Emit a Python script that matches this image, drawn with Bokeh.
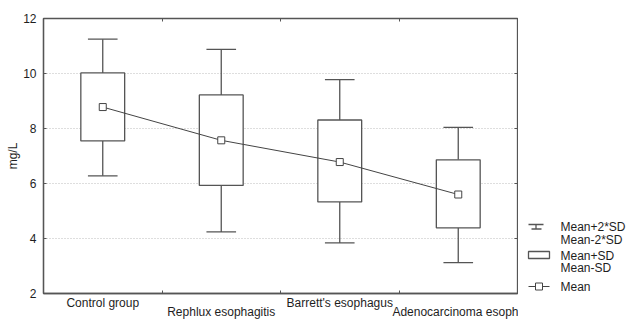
from bokeh.plotting import figure
from bokeh.models import Range1d, FixedTicker, LinearAxis, ColumnDataSource
from bokeh.layouts import row
from bokeh.embed import file_html
from bokeh.resources import INLINE
from bokeh.core.properties import value

# ---- data ----
categories = ["Control group", "Rephlux esophagitis", "Barrett's esophagus", "Adenocarcinoma esoph"]
mean = [8.78, 7.57, 6.78, 5.60]
mean_plus_sd = [10.02, 9.22, 8.31, 6.86]
mean_minus_sd = [7.55, 5.93, 5.33, 4.39]
mean_plus_2sd = [11.25, 10.88, 9.78, 8.04]
mean_minus_2sd = [6.28, 4.24, 3.84, 3.12]
y_ticks = [2, 4, 6, 8, 10, 12]
y_label = "mg/L"
legend_texts = ["Mean+2*SD", "Mean-2*SD", "Mean+SD", "Mean-SD", "Mean"]

FONT = "Liberation Sans"
EDGE = "#555555"
DARK = "#444444"
TXT = "#1e1e1e"

W_MAIN, W_LEG, H = 518, 109, 321
TOP, BOTTOM, LEFT, RIGHT = 18, 28, 43, 1

n = len(categories)
xs = [i + 0.5 for i in range(n)]
box_w = 0.37
cap_w = 0.25

src = ColumnDataSource(dict(
    x=xs, mean=mean, psd=mean_plus_sd, msd=mean_minus_sd,
    p2=mean_plus_2sd, m2=mean_minus_2sd,
    cl=[x - cap_w / 2 for x in xs], cr=[x + cap_w / 2 for x in xs],
))

p = figure(width=W_MAIN, height=H, x_range=Range1d(0, n),
           y_range=Range1d(y_ticks[0], y_ticks[-1]),
           output_backend="svg", toolbar_location=None,
           min_border_left=LEFT, min_border_right=RIGHT, min_border_top=TOP, min_border_bottom=BOTTOM,
           background_fill_color="white", border_fill_color="white")
p.outline_line_color = EDGE
p.outline_line_width = 1.3

# y axis
p.yaxis.ticker = FixedTicker(ticks=y_ticks)
p.yaxis.major_tick_in = 3
p.yaxis.major_tick_out = 0
p.yaxis.minor_tick_line_color = None
p.yaxis.major_tick_line_color = EDGE
p.yaxis.axis_line_color = EDGE
p.yaxis.axis_line_width = 1.3
p.yaxis.major_label_text_font = FONT
p.yaxis.major_label_text_font_size = "12px"
p.yaxis.major_label_text_color = TXT
p.yaxis.major_label_standoff = 7
p.yaxis.axis_label = y_label
p.yaxis.axis_label_text_font = FONT
p.yaxis.axis_label_text_font_size = "12px"
p.yaxis.axis_label_text_font_style = "normal"
p.yaxis.axis_label_text_color = TXT
p.yaxis.axis_label_standoff = 0

# x axis, first row of staggered labels + inner ticks at category boundaries
p.xaxis.ticker = FixedTicker(ticks=xs[0::2], minor_ticks=list(range(1, n)))
p.xaxis.major_tick_line_color = None
p.xaxis.major_tick_in = 0
p.xaxis.major_tick_out = 0
p.xaxis.minor_tick_in = 3
p.xaxis.minor_tick_out = 0
p.xaxis.minor_tick_line_color = EDGE
p.xaxis.axis_line_color = EDGE
p.xaxis.axis_line_width = 1.3
p.xaxis.major_label_overrides = {xs[i]: categories[i] for i in range(0, n, 2)}
p.xaxis.major_label_text_font = FONT
p.xaxis.major_label_text_font_size = "12px"
p.xaxis.major_label_text_color = TXT
p.xaxis.major_label_standoff = 2

# second row of staggered labels (pulled up so both rows fit below the frame)
row2_axis = LinearAxis(ticker=FixedTicker(ticks=xs[1::2], minor_ticks=[]),
                       major_tick_line_color=None, minor_tick_line_color=None,
                       major_tick_in=0, major_tick_out=0, axis_line_color=None,
                       major_label_overrides={xs[i]: categories[i] for i in range(1, n, 2)},
                       major_label_text_font=FONT, major_label_text_font_size="12px",
                       major_label_text_color=TXT, major_label_standoff=-8)
p.add_layout(row2_axis, "below")

top_axis = LinearAxis(ticker=FixedTicker(ticks=[], minor_ticks=list(range(1, n))),
                      minor_tick_in=3, minor_tick_out=0, minor_tick_line_color=EDGE,
                      axis_line_color=EDGE, major_label_text_font_size="0px",
                      major_label_standoff=0)
p.add_layout(top_axis, "above")
right_axis = LinearAxis(ticker=FixedTicker(ticks=y_ticks), major_tick_in=3, major_tick_out=0,
                        major_tick_line_color=EDGE, minor_tick_line_color=None,
                        axis_line_color=EDGE, major_label_text_font_size="0px",
                        major_label_standoff=0)
p.add_layout(right_axis, "right")

p.xgrid.visible = False
p.ygrid.ticker = FixedTicker(ticks=y_ticks[1:-1])
p.ygrid.grid_line_color = "#bdbdbd"
p.ygrid.grid_line_dash = "1 2"

# whiskers
p.segment(x0="x", y0="psd", x1="x", y1="p2", source=src, line_color=EDGE, line_width=1.3)
p.segment(x0="x", y0="msd", x1="x", y1="m2", source=src, line_color=EDGE, line_width=1.3)
p.segment(x0="cl", y0="p2", x1="cr", y1="p2", source=src, line_color=EDGE, line_width=1.3)
p.segment(x0="cl", y0="m2", x1="cr", y1="m2", source=src, line_color=EDGE, line_width=1.3)
# boxes
p.vbar(x="x", width=box_w, bottom="msd", top="psd", source=src,
       fill_color="white", line_color=EDGE, line_width=1.3)
# mean line and markers
p.line(x="x", y="mean", source=src, line_color=DARK, line_width=1)
p.scatter(x="x", y="mean", source=src, marker="square", size=7,
          fill_color="white", line_color=DARK, line_width=1)

# ---- legend panel: pixel coordinates; its frame is aligned with the main frame ----
lg = figure(width=W_LEG, height=H, x_range=Range1d(W_MAIN, W_MAIN + W_LEG),
            y_range=Range1d(H - BOTTOM, TOP),
            output_backend="svg", toolbar_location=None,
            x_axis_location=None, y_axis_location=None,
            min_border_left=0, min_border_right=0, min_border_top=TOP, min_border_bottom=BOTTOM,
            background_fill_color="white", border_fill_color="white")
lg.outline_line_color = None
lg.grid.visible = False

# whisker icon
lg.segment(x0=[528, 535.5, 531], y0=[224, 224, 228.5],
           x1=[543, 535.5, 541], y1=[224, 228.5, 228.5], line_color=EDGE, line_width=1.3)
# box icon
lg.quad(left=[528], right=[549], bottom=[258], top=[251],
        fill_color="white", line_color=EDGE, line_width=1.3)
# mean icon
lg.line(x=[528, 549], y=[286, 286], line_color=DARK, line_width=1)
lg.scatter(x=[538.5], y=[286], marker="square", size=7, fill_color="white", line_color=DARK)

lg.text(x=[560] * 5, y=[226.7, 239, 255, 267.5, 286], text=legend_texts,
        text_font=value(FONT), text_font_size="12px", text_baseline="middle",
        text_align="left", text_color=TXT)

layout = row(p, lg)
open("out.html", "w").write(file_html(layout, INLINE))
